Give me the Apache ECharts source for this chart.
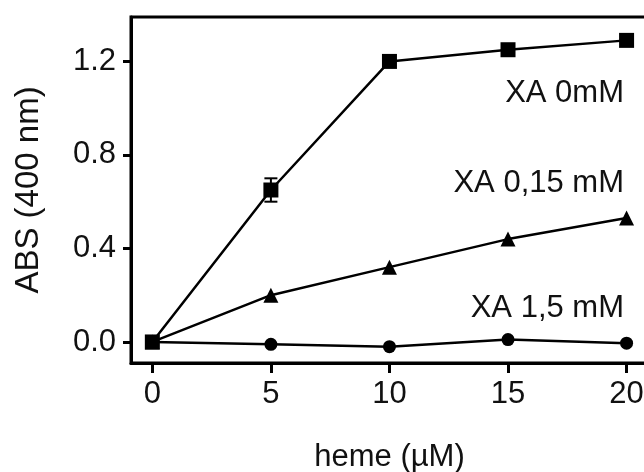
<!DOCTYPE html>
<html>
<head>
<meta charset="utf-8">
<script src="https://cdn.jsdelivr.net/npm/echarts@6/dist/echarts.min.js"></script>
<style>html,body{margin:0;padding:0;background:#fff}#c{width:644px;height:472px}</style>
</head>
<body>
<div id="c"></div>
<script>
var heme = [0, 5, 10, 15, 20];
var xa0 = [0.0, 0.65, 1.20, 1.25, 1.29];
var xa0Err = [0, 0.05, 0, 0, 0];
var xa015 = [0.0, 0.20, 0.32, 0.44, 0.53];
var xa15 = [0.0, -0.01, -0.02, 0.01, -0.005];
var xTicks = [0, 5, 10, 15, 20];
var yTicks = [0.0, 0.4, 0.8, 1.2];
var seriesNames = ['XA 0mM', 'XA 0,15 mM', 'XA 1,5 mM'];

function pairs(ys) { return heme.map(function (x, i) { return [x, ys[i]]; }); }

var FONT = 'Liberation Sans, Arial, sans-serif';
var chart = echarts.init(document.getElementById('c'), null, { renderer: 'canvas' });
chart.setOption({
  animation: false,
  backgroundColor: '#fff',
  grid: { left: 131, top: 17, width: 543, height: 346, outerBoundsMode: 'none', containLabel: false,
    show: true, borderColor: '#000', borderWidth: 3, backgroundColor: 'transparent' },
  xAxis: {
    type: 'value', min: -0.9, max: 22,
    name: 'heme (\u00b5M)', nameLocation: 'middle', nameGap: 79,
    nameTextStyle: { fontFamily: FONT, fontSize: 31, color: '#111', padding: [0, 26, 0, 0] },
    axisLine: { show: true, onZero: false, lineStyle: { color: '#000', width: 3 } },
    axisTick: { show: true, customValues: xTicks, length: 10, lineStyle: { color: '#000', width: 3 } },
    axisLabel: { customValues: xTicks, margin: 16, fontFamily: FONT, fontSize: 31, color: '#111' },
    splitLine: { show: false }
  },
  yAxis: {
    type: 'value', min: -0.09, max: 1.39,
    name: 'ABS (400 nm)', nameLocation: 'middle', nameGap: 86, nameRotate: 90,
    nameTextStyle: { fontFamily: FONT, fontSize: 33, color: '#111' },
    axisLine: { show: true, onZero: false, lineStyle: { color: '#000', width: 3 } },
    axisTick: { show: true, customValues: yTicks, length: 8, lineStyle: { color: '#000', width: 3 } },
    axisLabel: { customValues: yTicks, margin: 15, fontFamily: FONT, fontSize: 31, color: '#111',
      formatter: function (v) { return v.toFixed(1); } },
    splitLine: { show: false }
  },
  series: [
    { name: seriesNames[0], type: 'line', data: pairs(xa0), symbol: 'rect', symbolSize: 15,
      itemStyle: { color: '#000' }, lineStyle: { color: '#000', width: 2.5 }, z: 3 },
    { name: seriesNames[1], type: 'line', data: pairs(xa015), symbol: 'triangle', symbolSize: 15,
      itemStyle: { color: '#000' }, lineStyle: { color: '#000', width: 2.5 }, z: 3 },
    { name: seriesNames[2], type: 'line', data: pairs(xa15), symbol: 'circle', symbolSize: 13,
      itemStyle: { color: '#000' }, lineStyle: { color: '#000', width: 2.5 }, z: 3 },
    { type: 'custom', z: 4,
      data: heme.map(function (x, i) { return [x, xa0[i] - xa0Err[i], xa0[i] + xa0Err[i]]; })
        .filter(function (d) { return d[2] > d[1]; }),
      renderItem: function (params, api) {
        var lo = api.coord([api.value(0), api.value(1)]);
        var hi = api.coord([api.value(0), api.value(2)]);
        var w = 6.5;
        var st = { stroke: '#000', lineWidth: 2 };
        return { type: 'group', children: [
          { type: 'line', shape: { x1: lo[0], y1: lo[1], x2: hi[0], y2: hi[1] }, style: st },
          { type: 'line', shape: { x1: lo[0] - w, y1: lo[1], x2: lo[0] + w, y2: lo[1] }, style: st },
          { type: 'line', shape: { x1: hi[0] - w, y1: hi[1], x2: hi[0] + w, y2: hi[1] }, style: st }
        ] };
      }
    }
  ],
  graphic: [
    { type: 'text', right: 20, top: 78, style: { text: seriesNames[0], font: '31px ' + FONT, fill: '#111' } },
    { type: 'text', right: 20, top: 168, style: { text: seriesNames[1], font: '31px ' + FONT, fill: '#111' } },
    { type: 'text', right: 20, top: 293, style: { text: seriesNames[2], font: '31px ' + FONT, fill: '#111' } }
  ]
});
</script>
</body>
</html>
